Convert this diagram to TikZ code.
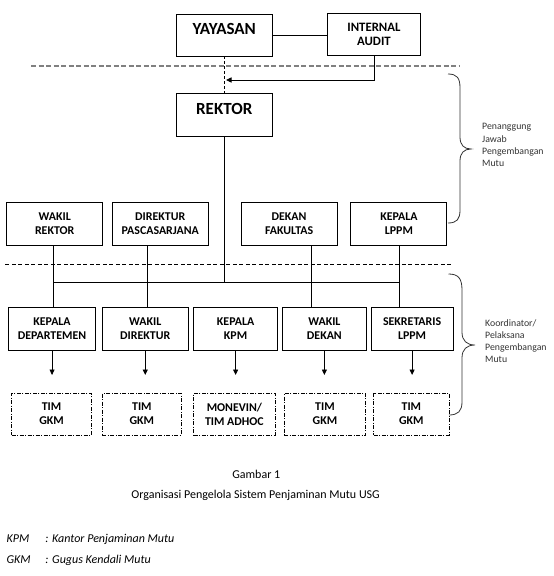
\documentclass[tikz,border=0pt]{standalone}
\usepackage{fontspec}
\setmainfont{Carlito}
\usetikzlibrary{arrows.meta}
\begin{document}
\begin{tikzpicture}[x=1pt,y=-1pt,
    kotak/.style={draw,line width=0.9pt,inner sep=0pt,outer sep=0pt,align=center,font=\fontsize{11.9}{14}\selectfont\bfseries},
    kotakbesar/.style={kotak,font=\fontsize{17}{20}\selectfont\bfseries,text height=11pt,text depth=12.6pt},
    tim/.style={kotak,dash pattern=on 4pt off 1.5pt on 1pt off 1.5pt},
    garis/.style={line width=0.9pt},
    panah/.style={line width=0.9pt,-{Triangle[width=5pt,length=5.5pt]}},
    kurung/.style={line width=0.8pt,black!80},
    ket/.style={align=left,anchor=west,inner sep=0pt,text=black!80,font=\fontsize{9.8}{12.2}\selectfont}]
\useasboundingbox (0,0) rectangle (554,576);
\node[kotakbesar,minimum width=96.5pt,minimum height=41.7pt] (yayasan) at (224.25,35.15) {YAYASAN};
\node[kotak,font=\fontsize{12.8}{14.6}\selectfont\bfseries,minimum width=92.1pt,minimum height=42pt] (audit) at (373.95,34.3) {INTERNAL\\AUDIT};
\node[kotakbesar,minimum width=96.5pt,minimum height=43pt] (rektor) at (224.25,114.8) {REKTOR};
\node[kotak,minimum width=96pt,minimum height=43.4pt] (wakilrektor) at (54.7,224) {WAKIL\\REKTOR};
\node[kotak,minimum width=96pt,minimum height=43.4pt] (direktur) at (160.25,224) {DIREKTUR\\PASCASARJANA};
\node[kotak,minimum width=96pt,minimum height=43.4pt] (dekan) at (289.1,224) {DEKAN\\FAKULTAS};
\node[kotak,minimum width=96pt,minimum height=43.4pt] (kepalalppm) at (398.9,224) {KEPALA\\LPPM};
\node[kotak,minimum width=86.5pt,minimum height=42.7pt] (kadep) at (52.05,328.65) {KEPALA\\DEPARTEMEN};
\node[kotak,minimum width=85.7pt,minimum height=42.7pt] (wadir) at (145.25,328.65) {WAKIL\\DIREKTUR};
\node[kotak,minimum width=83.6pt,minimum height=42.7pt] (kakpm) at (235.6,328.65) {KEPALA\\KPM};
\node[kotak,minimum width=84pt,minimum height=42.7pt] (wadek) at (324.4,328.65) {WAKIL\\DEKAN};
\node[kotak,minimum width=82.2pt,minimum height=42.7pt] (sekr) at (412.1,328.65) {SEKRETARIS\\LPPM};
\node[tim,minimum width=79.8pt,minimum height=41.7pt] (tim1) at (51.5,414.15) {TIM\\GKM};
\node[tim,minimum width=79pt,minimum height=41.7pt] (tim2) at (141.9,414.15) {TIM\\GKM};
\node[tim,minimum width=81.2pt,minimum height=41.7pt] (tim3) at (234.4,414.15) {MONEVIN/\\TIM ADHOC};
\node[tim,minimum width=81.5pt,minimum height=41.7pt] (tim4) at (324.95,414.15) {TIM\\GKM};
\node[tim,minimum width=75.2pt,minimum height=41.7pt] (tim5) at (411.4,414.15) {TIM\\GKM};
\coordinate (t1) at (53.3,282.3);
\coordinate (t2) at (147.2,282.3);
\coordinate (t3) at (311,282.3);
\coordinate (t4) at (399.9,282.3);
\coordinate (tap) at (226,80);
\draw[garis] (yayasan.east) -- (yayasan.east -| audit.west);
\draw[line width=0.7pt,dash pattern=on 3pt off 2pt] (yayasan.south) -- (rektor.north);
\draw[panah] (audit.south) |- (tap);
\draw[line width=2pt,black!50,dash pattern=on 5pt off 2.5pt] (31.1,65.5) -- (458.9,65.5);
\draw[line width=0.8pt,dash pattern=on 4pt off 2.5pt] (5.3,264.7) -- (451.8,264.7);
\draw[garis] (rektor.south) -- (rektor.south |- t1);
\draw[garis] (t1) -- (t4);
\draw[garis] (wakilrektor.south -| t1) -- (kadep.north -| t1);
\draw[garis] (direktur.south -| t2) -- (wadir.north -| t2);
\draw[garis] (dekan.south -| t3) -- (wadek.north -| t3);
\draw[garis] (kepalalppm.south -| t4) -- (sekr.north -| t4);
\draw[panah] (kadep.south) -- ++(0,25);
\draw[panah] (wadir.south) -- ++(0,25);
\draw[panah] (kakpm.south) -- ++(0,25);
\draw[panah] (wadek.south) -- ++(0,25);
\draw[panah] (sekr.south) -- ++(0,25);
\draw[kurung] (448,74) .. controls (457,74) and (460,78) .. (460,88) -- (460,137) .. controls (460,145) and (464,149) .. (471,149) .. controls (464,149) and (460,153) .. (460,161) -- (460,210) .. controls (460,219) and (457,223) .. (448,223);
\draw[kurung] (448.5,274) .. controls (458,274) and (462,278) .. (462,290) -- (462,332) .. controls (462,341) and (467,345) .. (475,345) .. controls (467,345) and (462,349) .. (462,358) -- (462,402) .. controls (462,411) and (458,415) .. (449,415);
\node[ket] (pj) at (482,145) {Penanggung\\Jawab\\Pengembangan\\Mutu};
\node[ket] (kp) at (485,341) {Koordinator/\\Pelaksana\\Pengembangan\\Mutu};
\node[anchor=base,font=\fontsize{12}{14}\selectfont] (gambar) at (256.3,478.3) {Gambar 1};
\node[anchor=base,font=\fontsize{12}{14}\selectfont] (judul) at (255.6,498.3) {Organisasi Pengelola Sistem Penjaminan Mutu USG};
\node[anchor=base west,inner sep=0pt,font=\fontsize{12}{14}\selectfont\itshape] (kpm) at (6.4,542.7) {KPM};
\node[anchor=base west,inner sep=0pt,font=\fontsize{12}{14}\selectfont\itshape] (kpmarti) at (45.2,542.7) {: Kantor Penjaminan Mutu};
\node[anchor=base west,inner sep=0pt,font=\fontsize{12}{14}\selectfont\itshape] (gkm) at (6.4,563.3) {GKM};
\node[anchor=base west,inner sep=0pt,font=\fontsize{12}{14}\selectfont\itshape] (gkmarti) at (45.2,563.3) {: Gugus Kendali Mutu};
\end{tikzpicture}
\end{document}
